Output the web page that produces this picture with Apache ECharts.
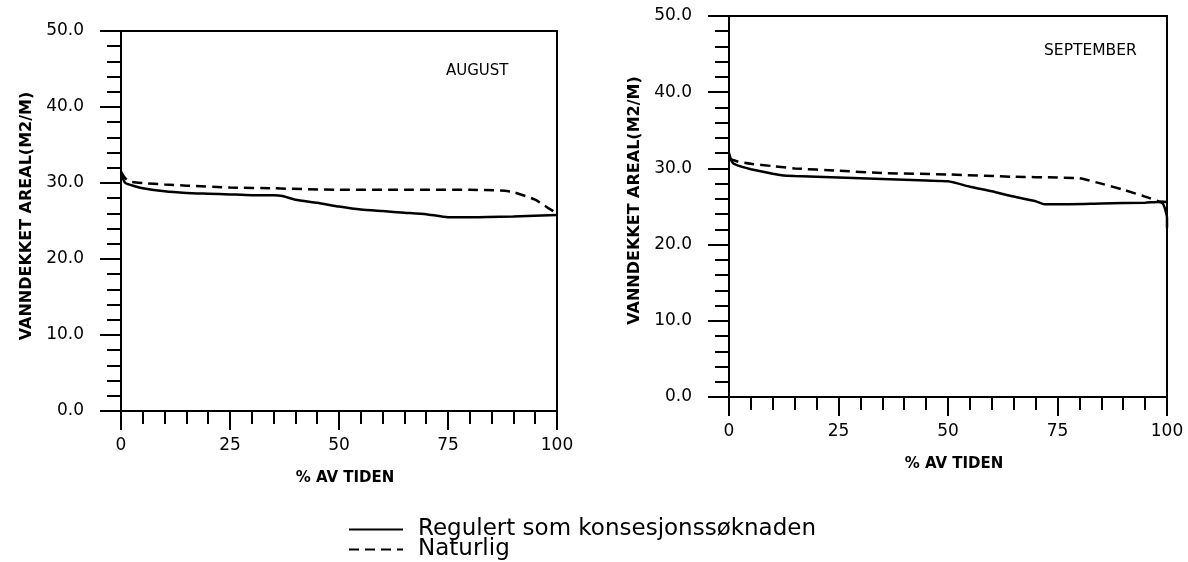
<!DOCTYPE html>
<html><head><meta charset="utf-8">
<script src="https://cdn.jsdelivr.net/npm/echarts@6/dist/echarts.min.js"></script>
<style>html,body{margin:0;padding:0;background:#fff}#c{width:1188px;height:562px}</style>
</head><body><div id="c"></div>
<script>
const seriesNames = ['Regulert som konsesjonssøknaden', 'Naturlig'];
const panelTitles = ['AUGUST', 'SEPTEMBER'];
const yAxisName = 'VANNDEKKET AREAL(M2/M)';
const xAxisName = '% AV TIDEN';

const augRegX = [0, 0.5, 1, 3, 5, 10, 15, 20, 25, 30, 35, 37, 40, 45, 50, 55, 60, 65, 70, 75, 80, 90, 100];
const augReg  = [31.3, 30.5, 30.0, 29.6, 29.3, 28.9, 28.7, 28.6, 28.5, 28.4, 28.4, 28.3, 27.8, 27.4, 26.9, 26.5, 26.3, 26.1, 25.9, 25.5, 25.5, 25.6, 25.8];
const augNatX = [0, 1, 2, 5, 10, 15, 25, 35, 50, 65, 80, 87, 90, 95, 98, 100];
const augNat  = [31.5, 30.6, 30.2, 30.0, 29.8, 29.65, 29.4, 29.3, 29.1, 29.1, 29.1, 29.0, 28.8, 27.8, 26.7, 26.0];

const sepRegX = [0, 0.5, 1, 3, 5, 10, 12, 15, 25, 35, 45, 50, 55, 60, 65, 70, 72, 75, 85, 95, 98, 99, 99.5, 100, 100];
const sepReg  = [32.0, 31.1, 30.65, 30.2, 29.9, 29.3, 29.1, 29.0, 28.8, 28.6, 28.4, 28.3, 27.6, 27.0, 26.3, 25.7, 25.3, 25.3, 25.4, 25.5, 25.6, 25.4, 24.8, 23.5, 22.2];
const sepNatX = [0, 2, 5, 10, 15, 25, 35, 50, 65, 75, 80, 85, 90, 95, 98, 100];
const sepNat  = [31.3, 30.9, 30.6, 30.3, 30.0, 29.7, 29.4, 29.2, 28.9, 28.8, 28.7, 28.0, 27.2, 26.3, 25.7, 25.6];

const zip = (xs, ys) => xs.map((x, i) => [x, ys[i]]);
const FONT = 'DejaVu Sans';

const grids = [
  {left: 121, top: 31, width: 436, height: 380, show: true, borderColor: '#000', borderWidth: 2},
  {left: 729, top: 16, width: 438, height: 381, show: true, borderColor: '#000', borderWidth: 2}
];
const yNamePad = [[0,0,0,10],[0,0,0,12]];
const xAxes = grids.map((g, i) => ({
  type: 'value', gridIndex: i, min: 0, max: 100, interval: 25,
  axisLine: {lineStyle: {color: '#000', width: 2}},
  axisTick: {inside: false, length: 19, lineStyle: {color: '#000', width: 2}},
  minorTick: {show: true, splitNumber: 5, length: 13, lineStyle: {color: '#000', width: 2}},
  axisLabel: {color: '#000', fontSize: 17, fontFamily: FONT, margin: 26},
  splitLine: {show: false},
  name: xAxisName, nameLocation: 'middle', nameGap: 60,
  nameTextStyle: {color: '#000', fontSize: 15, fontWeight: 'bold', fontFamily: FONT, padding: [0,0,0,12]}
}));
const yAxes = grids.map((g, i) => ({
  type: 'value', gridIndex: i, min: 0, max: 50, interval: 10,
  axisLine: {lineStyle: {color: '#000', width: 2}},
  axisTick: {inside: false, length: 21, lineStyle: {color: '#000', width: 2}},
  minorTick: {show: true, splitNumber: 5, length: 14, lineStyle: {color: '#000', width: 2}},
  axisLabel: {color: '#000', fontSize: 17, fontFamily: FONT, margin: 37, formatter: v => v.toFixed(1)},
  splitLine: {show: false},
  name: yAxisName, nameLocation: 'middle', nameGap: 86, nameRotate: 90,
  nameTextStyle: {color: '#000', fontSize: 16, fontWeight: 'bold', fontFamily: FONT, padding: yNamePad[i]}
}));

const panels = [[augRegX, augReg, augNatX, augNat], [sepRegX, sepReg, sepNatX, sepNat]];
const series = [];
panels.forEach((p, i) => {
  series.push({name: seriesNames[0], type: 'line', xAxisIndex: i, yAxisIndex: i, data: zip(p[0], p[1]),
    symbol: 'none', smooth: 0.2, lineStyle: {color: '#000', width: 2.5, type: 'solid'}, itemStyle: {color: '#000'}, z: 3});
  series.push({name: seriesNames[1], type: 'line', xAxisIndex: i, yAxisIndex: i, data: zip(p[2], p[3]),
    symbol: 'none', smooth: 0.2, lineStyle: {color: '#000', width: 2.5, type: [10, 6]}, itemStyle: {color: '#000'}, z: 2});
});

const legendBase = {
  orient: 'vertical', left: 343, itemWidth: 54, itemHeight: 14, selectedMode: false,
  itemStyle: {color: 'rgba(0,0,0,0)', borderWidth: 0},
  textStyle: {fontSize: 23, color: '#000', fontFamily: FONT, padding: [0,0,0,10]}
};

const chart = echarts.init(document.getElementById('c'), null, {renderer: 'canvas'});
chart.setOption({
  animation: false,
  backgroundColor: '#fff',
  title: [
    {text: panelTitles[0], left: 441, top: 59, textStyle: {fontSize: 15, fontWeight: 'normal', color: '#000', fontFamily: FONT}},
    {text: panelTitles[1], left: 1039, top: 38, textStyle: {fontSize: 15.5, fontWeight: 'normal', color: '#000', fontFamily: FONT}}
  ],
  legend: [
    Object.assign({}, legendBase, {top: 513, data: [seriesNames[0]]}),
    Object.assign({}, legendBase, {top: 533, data: [seriesNames[1]]})
  ],
  grid: grids, xAxis: xAxes, yAxis: yAxes, series: series
});
</script></body></html>
